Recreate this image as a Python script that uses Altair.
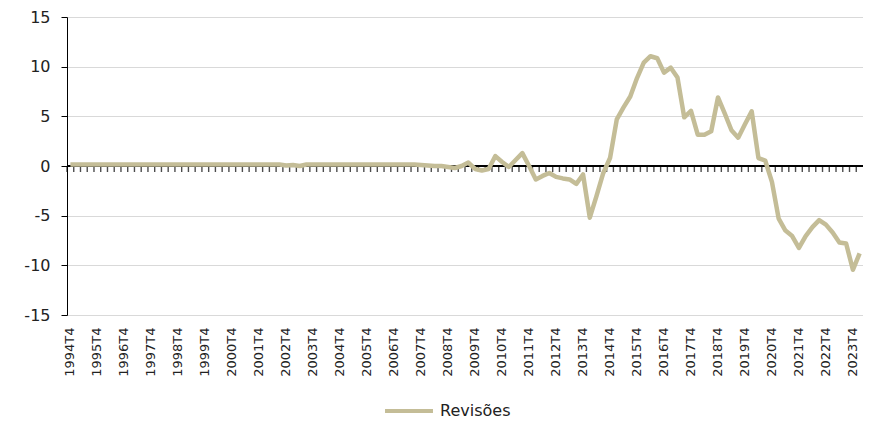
import altair as alt
import pandas as pd

# Quarter categories 1994T4 .. 2024T1
quarters = ["1994T4"] + [f"{y}T{q}" for y in range(1995, 2024) for q in (1, 2, 3, 4)] + ["2024T1"]

revisoes = [
    # 1994T4 - 2002T3
    0.15, 0.15, 0.15, 0.15, 0.15, 0.15, 0.15, 0.15,
    0.15, 0.15, 0.15, 0.15, 0.15, 0.15, 0.15, 0.15,
    0.15, 0.15, 0.15, 0.15, 0.15, 0.15, 0.15, 0.15,
    0.15, 0.15, 0.15, 0.15, 0.15, 0.15, 0.15, 0.15,
    # 2002T4 - 2003T3
    0.05, 0.10, 0.00, 0.15,
    # 2003T4 - 2007T3
    0.15, 0.15, 0.15, 0.15, 0.15, 0.15, 0.15, 0.15,
    0.15, 0.15, 0.15, 0.15, 0.15, 0.15, 0.15, 0.15,
    # 2007T4 - 2009T2
    0.10, 0.05, 0.00, 0.00, -0.10, -0.20, 0.00,
    # 2009T3 - 2011T4
    0.35, -0.30, -0.45, -0.30, 1.00, 0.40, -0.10, 0.60, 1.30, 0.00,
    # 2012T1 - 2014T4
    -1.35, -1.00, -0.70, -1.10, -1.25, -1.35, -1.80, -0.85, -5.20, -3.00, -0.70, 0.80,
    # 2015T1 - 2017T4
    4.70, 5.90, 7.00, 8.85, 10.40, 11.05, 10.85, 9.40, 9.90, 8.90, 4.90, 5.55,
    # 2018T1 - 2020T4
    3.15, 3.15, 3.50, 6.90, 5.30, 3.60, 2.85, 4.20, 5.50, 0.80, 0.55, -1.60,
    # 2021T1 - 2024T1
    -5.30, -6.50, -7.05, -8.25, -7.05, -6.15, -5.45, -5.90, -6.70, -7.70, -7.80, -10.45, -8.80,
]
assert len(revisoes) == len(quarters), (len(revisoes), len(quarters))

series_name = "Revisões"
y_ticks = [-15, -10, -5, 0, 5, 10, 15]
x_label_values = [q for q in quarters if q.endswith("T4")]

line_color = "#C4BD97"
text_color = "#222222"
font = "DejaVu Sans"

df = pd.DataFrame({"q": quarters, "v": revisoes, "s": series_name})

x_scale = alt.Scale(type="band", domain=quarters, paddingInner=0, paddingOuter=0)
y_scale = alt.Scale(domain=[-15, 15], nice=False, zero=False)

x_axis = alt.Axis(
    values=x_label_values, title=None, labelAngle=270, ticks=False, domain=False,
    grid=False, labelPadding=12, labelFontSize=13, labelColor=text_color, labelFont=font,
)
y_axis = alt.Axis(
    values=y_ticks, title=None, grid=True, gridColor="#D9D9D9", gridWidth=1,
    domain=True, domainColor="black", domainWidth=1, ticks=True, tickColor="black",
    tickSize=6, tickWidth=1, labelPadding=11, labelFontSize=16, labelColor=text_color,
    labelFont=font, labelExpr="datum.value + ''",
)

base = alt.Chart(df)

zero_rule = base.mark_rule(color="black", strokeWidth=1).encode(
    y=alt.Y(datum=0, scale=y_scale, axis=y_axis)
)

ticks = base.mark_tick(orient="vertical", size=6, thickness=1.4, color="black", yOffset=3).encode(
    x=alt.X("q:N", scale=x_scale, axis=x_axis, sort=quarters, bandPosition=0),
    y=alt.Y(datum=0, scale=y_scale, axis=y_axis),
)

line = base.mark_line(strokeWidth=4.5, strokeJoin="round").encode(
    x=alt.X("q:N", scale=x_scale, axis=x_axis, sort=quarters, bandPosition=0.5),
    y=alt.Y("v:Q", scale=y_scale, axis=y_axis),
    color=alt.Color(
        "s:N",
        scale=alt.Scale(domain=[series_name], range=[line_color]),
        legend=alt.Legend(
            title=None, orient="none", legendX=316, legendY=368, symbolType="stroke",
            symbolSize=2300, symbolStrokeWidth=4, labelFontSize=16, labelFont=font,
            labelColor=text_color, labelOffset=5,
        ),
    ),
)

chart = (
    alt.layer(zero_rule, ticks, line)
    .properties(
        width=796, height=298,
        autosize=alt.AutoSizeParams(type="none"),
        padding={"left": 59, "top": 9, "right": 0, "bottom": 106},
        background="white",
    )
    .configure_view(stroke=None)
)

chart.save("out.html", embed_options={"renderer": "svg", "actions": False})
